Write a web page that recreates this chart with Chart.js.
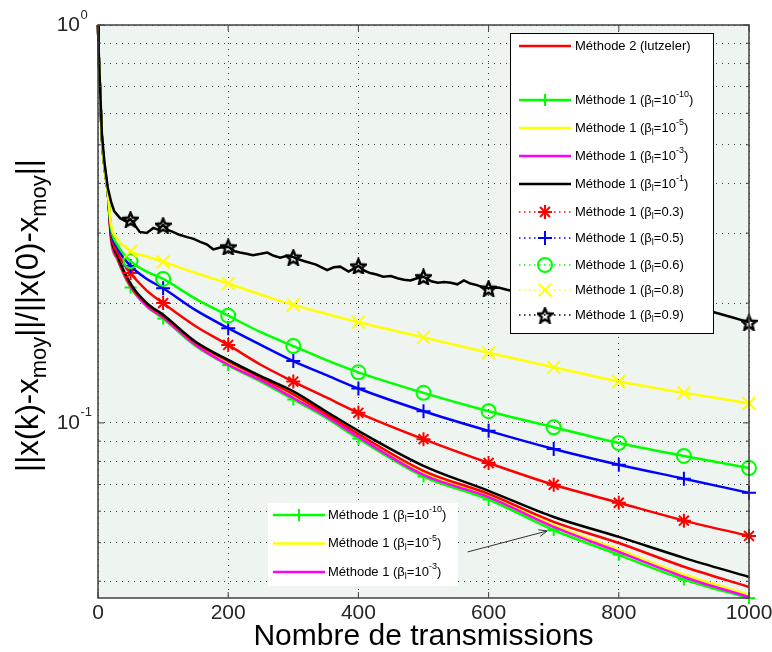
<!DOCTYPE html>
<html>
<head>
<meta charset="utf-8">
<script src="https://cdn.jsdelivr.net/npm/chart.js"></script>
<style>
  html, body { margin: 0; padding: 0; background: #fff; }
  canvas { display: block; }
</style>
</head>
<body>
<canvas id="c" width="772" height="652"></canvas>
<script>
// Abscisses (nombre de transmissions) des courbes lisses
var xs = [0, 1, 3, 6, 10, 15, 20, 30, 50, 75, 100, 150, 200, 250, 300, 350, 400, 500, 600, 700, 800, 900, 1000];

// Erreur relative ||x(k)-xmoy|| / ||x(0)-xmoy||
var methode2   = [1.0, 0.85, 0.70, 0.52, 0.44, 0.38, 0.295, 0.260, 0.222, 0.199, 0.186, 0.159, 0.143, 0.130, 0.118, 0.1055, 0.0938, 0.0758, 0.0663, 0.0564, 0.0499, 0.0435, 0.0387];
var beta1e10   = [1.0, 0.85, 0.70, 0.52, 0.44, 0.38, 0.289, 0.257, 0.219, 0.196, 0.183, 0.156, 0.1395, 0.127, 0.1145, 0.103, 0.0912, 0.0733, 0.0642, 0.0538, 0.0466, 0.0404, 0.0363];
var beta1e5    = [1.0, 0.85, 0.70, 0.52, 0.44, 0.38, 0.291, 0.259, 0.221, 0.198, 0.185, 0.158, 0.141, 0.129, 0.1165, 0.105, 0.0930, 0.0748, 0.0657, 0.0553, 0.0480, 0.0416, 0.0370];
var beta1e3    = [1.0, 0.85, 0.70, 0.52, 0.44, 0.38, 0.290, 0.258, 0.220, 0.197, 0.184, 0.157, 0.140, 0.128, 0.1155, 0.104, 0.0922, 0.0740, 0.0651, 0.0548, 0.0474, 0.0410, 0.0365];
var beta1e1    = [1.0, 0.85, 0.70, 0.52, 0.44, 0.38, 0.297, 0.263, 0.224, 0.200, 0.187, 0.160, 0.144, 0.131, 0.120, 0.107, 0.0955, 0.0780, 0.0675, 0.0580, 0.0517, 0.0458, 0.0410];
var beta03     = [1.0, 0.85, 0.70, 0.52, 0.44, 0.38, 0.300, 0.268, 0.238, 0.215, 0.200, 0.175, 0.157, 0.140, 0.127, 0.116, 0.106, 0.0910, 0.0793, 0.0699, 0.0630, 0.0568, 0.0520];
var beta05     = [1.0, 0.85, 0.70, 0.52, 0.44, 0.38, 0.305, 0.275, 0.248, 0.230, 0.218, 0.192, 0.173, 0.157, 0.143, 0.132, 0.122, 0.107, 0.0955, 0.0860, 0.0785, 0.0724, 0.0667];
var beta06     = [1.0, 0.85, 0.70, 0.52, 0.44, 0.38, 0.310, 0.280, 0.255, 0.240, 0.230, 0.205, 0.186, 0.169, 0.156, 0.144, 0.134, 0.119, 0.107, 0.0975, 0.0890, 0.0826, 0.0770];
var beta08     = [1.0, 0.85, 0.70, 0.52, 0.44, 0.38, 0.315, 0.290, 0.270, 0.262, 0.254, 0.238, 0.224, 0.210, 0.198, 0.188, 0.179, 0.164, 0.150, 0.138, 0.127, 0.119, 0.112];

// beta = 0.9 : courbe bruitee, lue point par point
var xs09   = [0, 1, 3, 6, 10, 15, 20, 25, 34, 44, 50, 56, 64, 75, 85, 92, 100, 108, 115, 125, 137, 147, 157, 167, 177, 188, 200, 210, 218, 228, 238, 250, 260, 270, 280, 290, 300, 310, 320, 335, 352, 362, 372, 385, 400, 410, 418, 428, 438, 450, 460, 470, 480, 490, 500, 512, 522, 532, 542, 552, 562, 572, 582, 592, 600, 615, 628, 650, 700, 750, 800, 850, 900, 945, 960, 975, 990, 1000];
var beta09 = [1.0, 0.86, 0.71, 0.53, 0.45, 0.39, 0.36, 0.34, 0.327, 0.320, 0.325, 0.315, 0.302, 0.300, 0.309, 0.306, 0.314, 0.305, 0.302, 0.297, 0.293, 0.290, 0.285, 0.281, 0.273, 0.276, 0.277, 0.270, 0.268, 0.266, 0.264, 0.266, 0.268, 0.263, 0.260, 0.263, 0.261, 0.257, 0.254, 0.250, 0.242, 0.246, 0.247, 0.240, 0.248, 0.241, 0.238, 0.236, 0.233, 0.234, 0.231, 0.229, 0.228, 0.231, 0.233, 0.227, 0.225, 0.226, 0.225, 0.223, 0.228, 0.224, 0.222, 0.219, 0.218, 0.219, 0.216, 0.212, 0.206, 0.203, 0.199, 0.197, 0.193, 0.190, 0.187, 0.184, 0.181, 0.179];

// positions des marqueurs
var markerX = [50, 100, 200, 300, 400, 500, 600, 700, 800, 900, 1000];

// graduations
var xTicks = [0, 200, 400, 600, 800, 1000];
var yGrid = [0.04, 0.05, 0.06, 0.07, 0.08, 0.09, 0.1, 0.2, 0.3, 0.4, 0.5, 0.6, 0.7, 0.8, 0.9, 1];
var yLabels = [[1, '0'], [0.1, '-1']];

var FONT = '"Liberation Sans", Arial, Helvetica, sans-serif';

// pentagramme (marqueur 'p' de matlab)
function pentagram(size, color) {
  var c = document.createElement('canvas');
  c.width = c.height = size;
  var g = c.getContext('2d');
  g.strokeStyle = color;
  g.lineWidth = 2.4;
  g.lineJoin = 'miter';
  g.beginPath();
  for (var i = 0; i < 10; i++) {
    var r = i % 2 ? size * 0.2 : size * 0.45;
    var a = -Math.PI / 2 + i * Math.PI / 5;
    var px = size / 2 + r * Math.cos(a), py = size / 2 + 1 + r * Math.sin(a);
    if (i === 0) g.moveTo(px, py); else g.lineTo(px, py);
  }
  g.closePath();
  g.stroke();
  return c;
}
var star5 = pentagram(17, '#000');

function beta(exp) {
  return [['Méthode 1 (β', 0], ['l', -1], ['=10', 0], [exp, 1], [')', 0]];
}
function betaV(v) {
  return [['Méthode 1 (β', 0], ['l', -1], ['=' + v + ')', 0]];
}

// ordre : la premiere est dessinee au-dessus
var series = [
  { x: xs09, y: beta09,   color: '#000000', marker: star5,      r: 8, text: betaV('0.9'), noisy: true },
  { x: xs,   y: beta08,   color: '#ffff00', marker: 'crossRot', r: 9, text: betaV('0.8') },
  { x: xs,   y: beta06,   color: '#00ff00', marker: 'circle',   r: 7, text: betaV('0.6') },
  { x: xs,   y: beta05,   color: '#0000ff', marker: 'cross',    r: 7, text: betaV('0.5') },
  { x: xs,   y: beta03,   color: '#ff0000', marker: 'star',     r: 7, text: betaV('0.3') },
  { x: xs,   y: beta1e1,  color: '#000000', text: beta('-1') },
  { x: xs,   y: methode2, color: '#ff0000', text: [['Méthode 2 (lutzeler)', 0]] },
  { x: xs,   y: beta1e3,  color: '#ff00ff', text: beta('-3') },
  { x: xs,   y: beta1e5,  color: '#ffff00', text: beta('-5') },
  { x: xs,   y: beta1e10, color: '#00ff00', marker: 'cross', r: 6, text: beta('-10') }
];

function richText(ctx, parts, x, y, size, dry) {
  var cx = x;
  parts.forEach(function (p) {
    var s = p[1] ? Math.round(size * 0.72) : size;
    ctx.font = s + 'px ' + FONT;
    var dy = p[1] === 1 ? -size * 0.42 : (p[1] === -1 ? size * 0.34 : 0);
    if (!dry) ctx.fillText(p[0], cx, y + dy);
    cx += ctx.measureText(p[0]).width;
  });
  return cx - x;
}

function drawMk(ctx, m, x, y, r, color) {
  if (!m) return;
  if (typeof m !== 'string') { ctx.drawImage(m, x - m.width / 2, y - m.height / 2); return; }
  ctx.save();
  ctx.strokeStyle = color;
  ctx.lineWidth = 2;
  ctx.setLineDash([]);
  ctx.beginPath();
  var d = r * 0.707;
  if (m === 'cross' || m === 'star') {
    ctx.moveTo(x - r, y); ctx.lineTo(x + r, y);
    ctx.moveTo(x, y - r); ctx.lineTo(x, y + r);
  }
  if (m === 'crossRot' || m === 'star') {
    ctx.moveTo(x - d, y - d); ctx.lineTo(x + d, y + d);
    ctx.moveTo(x - d, y + d); ctx.lineTo(x + d, y - d);
  }
  if (m === 'circle') ctx.arc(x, y, r, 0, Math.PI * 2);
  ctx.stroke();
  ctx.restore();
}

function legendRow(ctx, s, x0, x1, y, dotted, tx) {
  ctx.save();
  ctx.strokeStyle = s.color;
  if (dotted) { ctx.lineWidth = 1.5; ctx.setLineDash([1.5, 3.5]); }
  else { ctx.lineWidth = 2.5; ctx.setLineDash([]); }
  ctx.beginPath(); ctx.moveTo(x0, y); ctx.lineTo(x1, y); ctx.stroke();
  ctx.restore();
  drawMk(ctx, s.marker, (x0 + x1) / 2, y, s.r, s.color);
  ctx.fillStyle = '#000';
  ctx.textBaseline = 'middle';
  ctx.textAlign = 'left';
  richText(ctx, s.text, tx, y, 13);
}

var decor = {
  id: 'decor',
  beforeDraw: function (chart) {
    var ctx = chart.ctx, a = chart.chartArea;
    ctx.save();
    ctx.fillStyle = '#fff';
    ctx.fillRect(0, 0, chart.width, chart.height);
    ctx.fillStyle = '#eef4f0';
    ctx.fillRect(a.left, a.top, a.right - a.left, a.bottom - a.top);
    ctx.restore();
  },
  afterDraw: function (chart) {
    var ctx = chart.ctx, a = chart.chartArea;
    var sx = chart.scales.x, sy = chart.scales.y;
    ctx.save();

    // cadre et graduations internes
    ctx.strokeStyle = '#404040';
    ctx.lineWidth = 1.5;
    ctx.setLineDash([]);
    ctx.strokeRect(a.left, a.top, a.right - a.left, a.bottom - a.top);
    ctx.lineWidth = 1;
    ctx.beginPath();
    xTicks.forEach(function (v) {
      var px = sx.getPixelForValue(v);
      ctx.moveTo(px, a.bottom); ctx.lineTo(px, a.bottom - 6);
      ctx.moveTo(px, a.top); ctx.lineTo(px, a.top + 6);
    });
    yGrid.forEach(function (v) {
      var py = sy.getPixelForValue(v);
      var len = (v === 0.1 || v === 1) ? 6 : 3;
      ctx.moveTo(a.left, py); ctx.lineTo(a.left + len, py);
      ctx.moveTo(a.right, py); ctx.lineTo(a.right - len, py);
    });
    ctx.stroke();

    // etiquettes de l'axe y (10^0, 10^-1)
    ctx.fillStyle = '#262626';
    ctx.textBaseline = 'middle';
    yLabels.forEach(function (l) {
      var py = sy.getPixelForValue(l[0]);
      ctx.font = '21px ' + FONT;
      ctx.textAlign = 'right';
      ctx.fillText('10', 80, py);
      ctx.font = '13px ' + FONT;
      ctx.textAlign = 'left';
      ctx.fillText(l[1], 80.5, py - 10);
    });

    // titre de l'axe y
    var title = [['||x(k)-x', 0], ['moy', -1], ['||/||x(0)-x', 0], ['moy', -1], ['||', 0]];
    ctx.save();
    ctx.translate(29, (a.top + a.bottom) / 2 + 4);
    ctx.rotate(-Math.PI / 2);
    ctx.fillStyle = '#000';
    ctx.textAlign = 'left';
    var w = richText(ctx, title, 0, 0, 31, true);
    richText(ctx, title, -w / 2, 0, 31);
    ctx.restore();

    // legende principale
    var order = [6, null, 9, 8, 7, 5, 4, 3, 2, 1, 0];
    var rows = [46, 73, 100, 128, 156, 184, 212, 238, 265, 290, 315];
    ctx.fillStyle = '#fff';
    ctx.fillRect(510, 33, 203, 300);
    ctx.strokeStyle = '#000';
    ctx.lineWidth = 1;
    ctx.strokeRect(510.5, 33.5, 203, 300);
    order.forEach(function (k, i) {
      if (k === null) return;
      legendRow(ctx, series[k], 519, 571, rows[i], !!series[k].marker && k < 5, 575);
    });

    // legende secondaire
    ctx.fillStyle = '#fff';
    ctx.fillRect(268, 503, 190, 83);
    [9, 8, 7].forEach(function (k, i) {
      legendRow(ctx, series[k], 273, 325, 515 + i * 28.5, false, 328);
    });

    // fleche
    var p1x = sx.getPixelForValue(568), p1y = sy.getPixelForValue(0.0474);
    var p2x = sx.getPixelForValue(690), p2y = sy.getPixelForValue(0.0535);
    var ang = Math.atan2(p2y - p1y, p2x - p1x);
    ctx.strokeStyle = '#333';
    ctx.lineWidth = 1;
    ctx.beginPath();
    ctx.moveTo(p1x, p1y); ctx.lineTo(p2x, p2y);
    ctx.moveTo(p2x - 9 * Math.cos(ang - 0.4), p2y - 9 * Math.sin(ang - 0.4));
    ctx.lineTo(p2x, p2y);
    ctx.lineTo(p2x - 9 * Math.cos(ang + 0.4), p2y - 9 * Math.sin(ang + 0.4));
    ctx.stroke();

    ctx.restore();
  }
};

var gridStyle = { color: 'rgba(30,30,30,0.85)', lineWidth: 1, drawTicks: false };
var borderStyle = { display: false, dash: [1, 5] };

var chart = new Chart(document.getElementById('c'), {
  type: 'line',
  data: {
    datasets: series.map(function (s) {
      return {
        data: s.x.map(function (x, i) { return { x: x, y: s.y[i] }; }),
        borderColor: s.color,
        borderWidth: 2.5,
        tension: 0,
        cubicInterpolationMode: s.noisy ? 'default' : 'monotone',
        fill: false,
        clip: false,
        pointStyle: s.marker || 'circle',
        pointRadius: function (c) {
          return s.marker && c.raw && markerX.indexOf(c.raw.x) >= 0 ? s.r : 0;
        },
        pointBorderColor: s.color,
        pointBackgroundColor: 'rgba(0,0,0,0)',
        pointBorderWidth: 2
      };
    })
  },
  options: {
    responsive: false,
    animation: false,
    devicePixelRatio: 1,
    layout: { padding: { top: 25, right: 23, left: 0, bottom: 0 } },
    plugins: { legend: { display: false }, tooltip: { enabled: false } },
    scales: {
      x: {
        type: 'linear', min: 0, max: 1000,
        afterBuildTicks: function (s) { s.ticks = xTicks.map(function (v) { return { value: v }; }); },
        afterFit: function (s) { s.height = 54; s.paddingLeft = 0; s.paddingRight = 0; },
        ticks: {
          color: '#262626', padding: 3, maxRotation: 0,
          font: { family: FONT, size: 21 },
          callback: function (v) { return String(v); }
        },
        grid: gridStyle,
        border: borderStyle,
        title: {
          display: true, text: 'Nombre de transmissions', color: '#000',
          font: { family: FONT, size: 30, lineHeight: 1.0 }, padding: { top: 0, bottom: 0 }
        }
      },
      y: {
        type: 'logarithmic', min: 0.0363, max: 1,
        afterBuildTicks: function (s) { s.ticks = yGrid.map(function (v) { return { value: v }; }); },
        afterFit: function (s) { s.width = 98; s.paddingTop = 0; s.paddingBottom = 0; },
        ticks: { display: false },
        grid: gridStyle,
        border: borderStyle
      }
    }
  },
  plugins: [decor]
});
</script>
</body>
</html>
